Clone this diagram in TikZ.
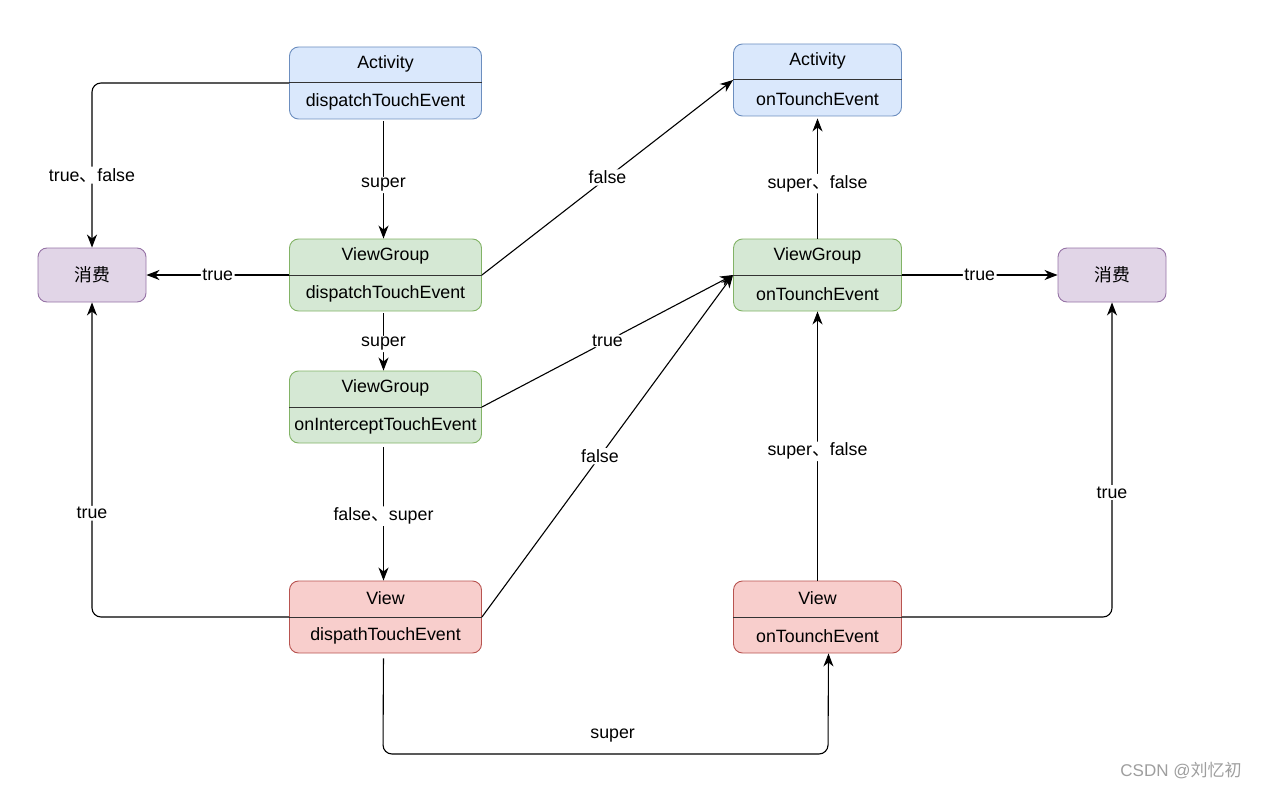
\documentclass[tikz,border=0pt]{standalone}
\usepackage{fontspec}
\setmainfont{Liberation Sans}
\newfontfamily\cjk{Noto Sans CJK SC}
\usetikzlibrary{arrows.meta,calc}
\definecolor{bluef}{HTML}{DAE8FC}\definecolor{bluel}{HTML}{6C8EBF}
\definecolor{greenf}{HTML}{D5E8D4}\definecolor{greenl}{HTML}{82B366}
\definecolor{redf}{HTML}{F8CECC}\definecolor{redl}{HTML}{B85450}
\definecolor{purf}{HTML}{E1D5E7}\definecolor{purl}{HTML}{9673A6}
\definecolor{divc}{HTML}{333333}
\newcommand{\dun}{{\cjk 、}}
\newcommand{\twobox}[7]{%
  \node[box, minimum width=#3, fill=#4, draw=#5] (#1) at #2 {};
  \draw[divline] (#1.west) -- (#1.east);
  \node[txt] (#1-t) at ($(#1)+(0,-19)$) {#6};
  \node[txt] (#1-b) at ($(#1)+(0,19)$) {#7};
}
\begin{document}
\begin{tikzpicture}[x=1pt,y=-1pt,
  font=\fontsize{17.8}{21}\selectfont,
  box/.style={rounded corners=9pt, minimum height=72pt, line width=0.9pt, inner sep=0pt},
  cbox/.style={rounded corners=9pt, minimum width=108pt, minimum height=54pt, line width=0.9pt, fill=purf, draw=purl, inner sep=0pt, font=\cjk\fontsize{17.8}{21}\selectfont},
  divline/.style={draw=divc, line width=1pt},
  txt/.style={inner sep=0pt},
  arr/.style={-{Stealth[length=13pt,width=10pt,inset=4pt]}, line width=1.1pt, rounded corners=9pt},
  lbl/.style={fill=white, inner sep=1.5pt, text=black}
]
\useasboundingbox (0,0) rectangle (1261,789);

% boxes
\twobox{ad}{(385.5,83)}{192pt}{bluef}{bluel}{Activity}{dispatchTouchEvent}
\twobox{vgd}{(385.5,275)}{192pt}{greenf}{greenl}{ViewGroup}{dispatchTouchEvent}
\twobox{vgi}{(385.5,407)}{192pt}{greenf}{greenl}{ViewGroup}{onInterceptTouchEvent}
\twobox{vd}{(385.5,617)}{192pt}{redf}{redl}{View}{dispathTouchEvent}
\twobox{ao}{(817.5,80)}{168pt}{bluef}{bluel}{Activity}{onTounchEvent}
\twobox{vgo}{(817.5,275)}{168pt}{greenf}{greenl}{ViewGroup}{onTounchEvent}
\twobox{vo}{(817.5,617)}{168pt}{redf}{redl}{View}{onTounchEvent}
\node[cbox] (c1) at (92,275) {消费};
\node[cbox] (c2) at (1112,275) {消费};

% helper coordinates
\coordinate (b1) at (383,754);
\coordinate (b2) at (828,754);

% connectors
\draw[arr, shorten <=2pt] ([xshift=-2pt]ad.south) -- node[lbl, pos=0.55]{super} ([xshift=-2pt]vgd.north);
\draw[arr] (ad.west) -| node[lbl, pos=0.78]{true\dun false} (c1.north);
\draw[arr] (vgd.west) -- node[lbl, pos=0.5]{true} (c1.east);
\draw[arr] (vgd.east) -- node[lbl]{false} (ao.west);
\draw[arr, shorten <=2pt] ([xshift=-2pt]vgd.south) -- node[lbl, pos=0.55]{super} ([xshift=-2pt]vgi.north);
\draw[arr] (vgi.east) -- node[lbl]{true} (vgo.west);
\draw[arr, shorten <=4pt] ([xshift=-2pt]vgi.south) -- node[lbl, pos=0.53]{false\dun super} ([xshift=-2pt]vd.north);
\draw[arr] (vd.west) -| node[lbl, pos=0.665]{true} (c1.south);
\draw[arr] (vd.east) -- node[lbl, pos=0.47]{false} (vgo.west);
\draw[arr, shorten <=5pt] ([xshift=-2pt]vd.south) -- (b1) -- (b2) -- ([xshift=11pt]vo.south);
\path (b1) -- node[above=12pt, inner sep=0pt, pos=0.516]{super} (b2);
\draw[arr] (vo.north) -- node[lbl, pos=0.48]{super\dun false} (vgo.south);
\draw[arr, shorten >=2pt] (vgo.north) -- node[lbl, pos=0.45]{super\dun false} (ao.south);
\draw[arr] (vgo.east) -- node[lbl]{true} (c2.west);
\draw[arr] (vo.east) -| node[lbl, pos=0.698]{true} (c2.south);

% watermark
\node[text=black!38, font=\fontsize{17}{20}\selectfont] (wm) at (1181,771) {CSDN @{\cjk 刘忆初}};
\end{tikzpicture}
\end{document}
